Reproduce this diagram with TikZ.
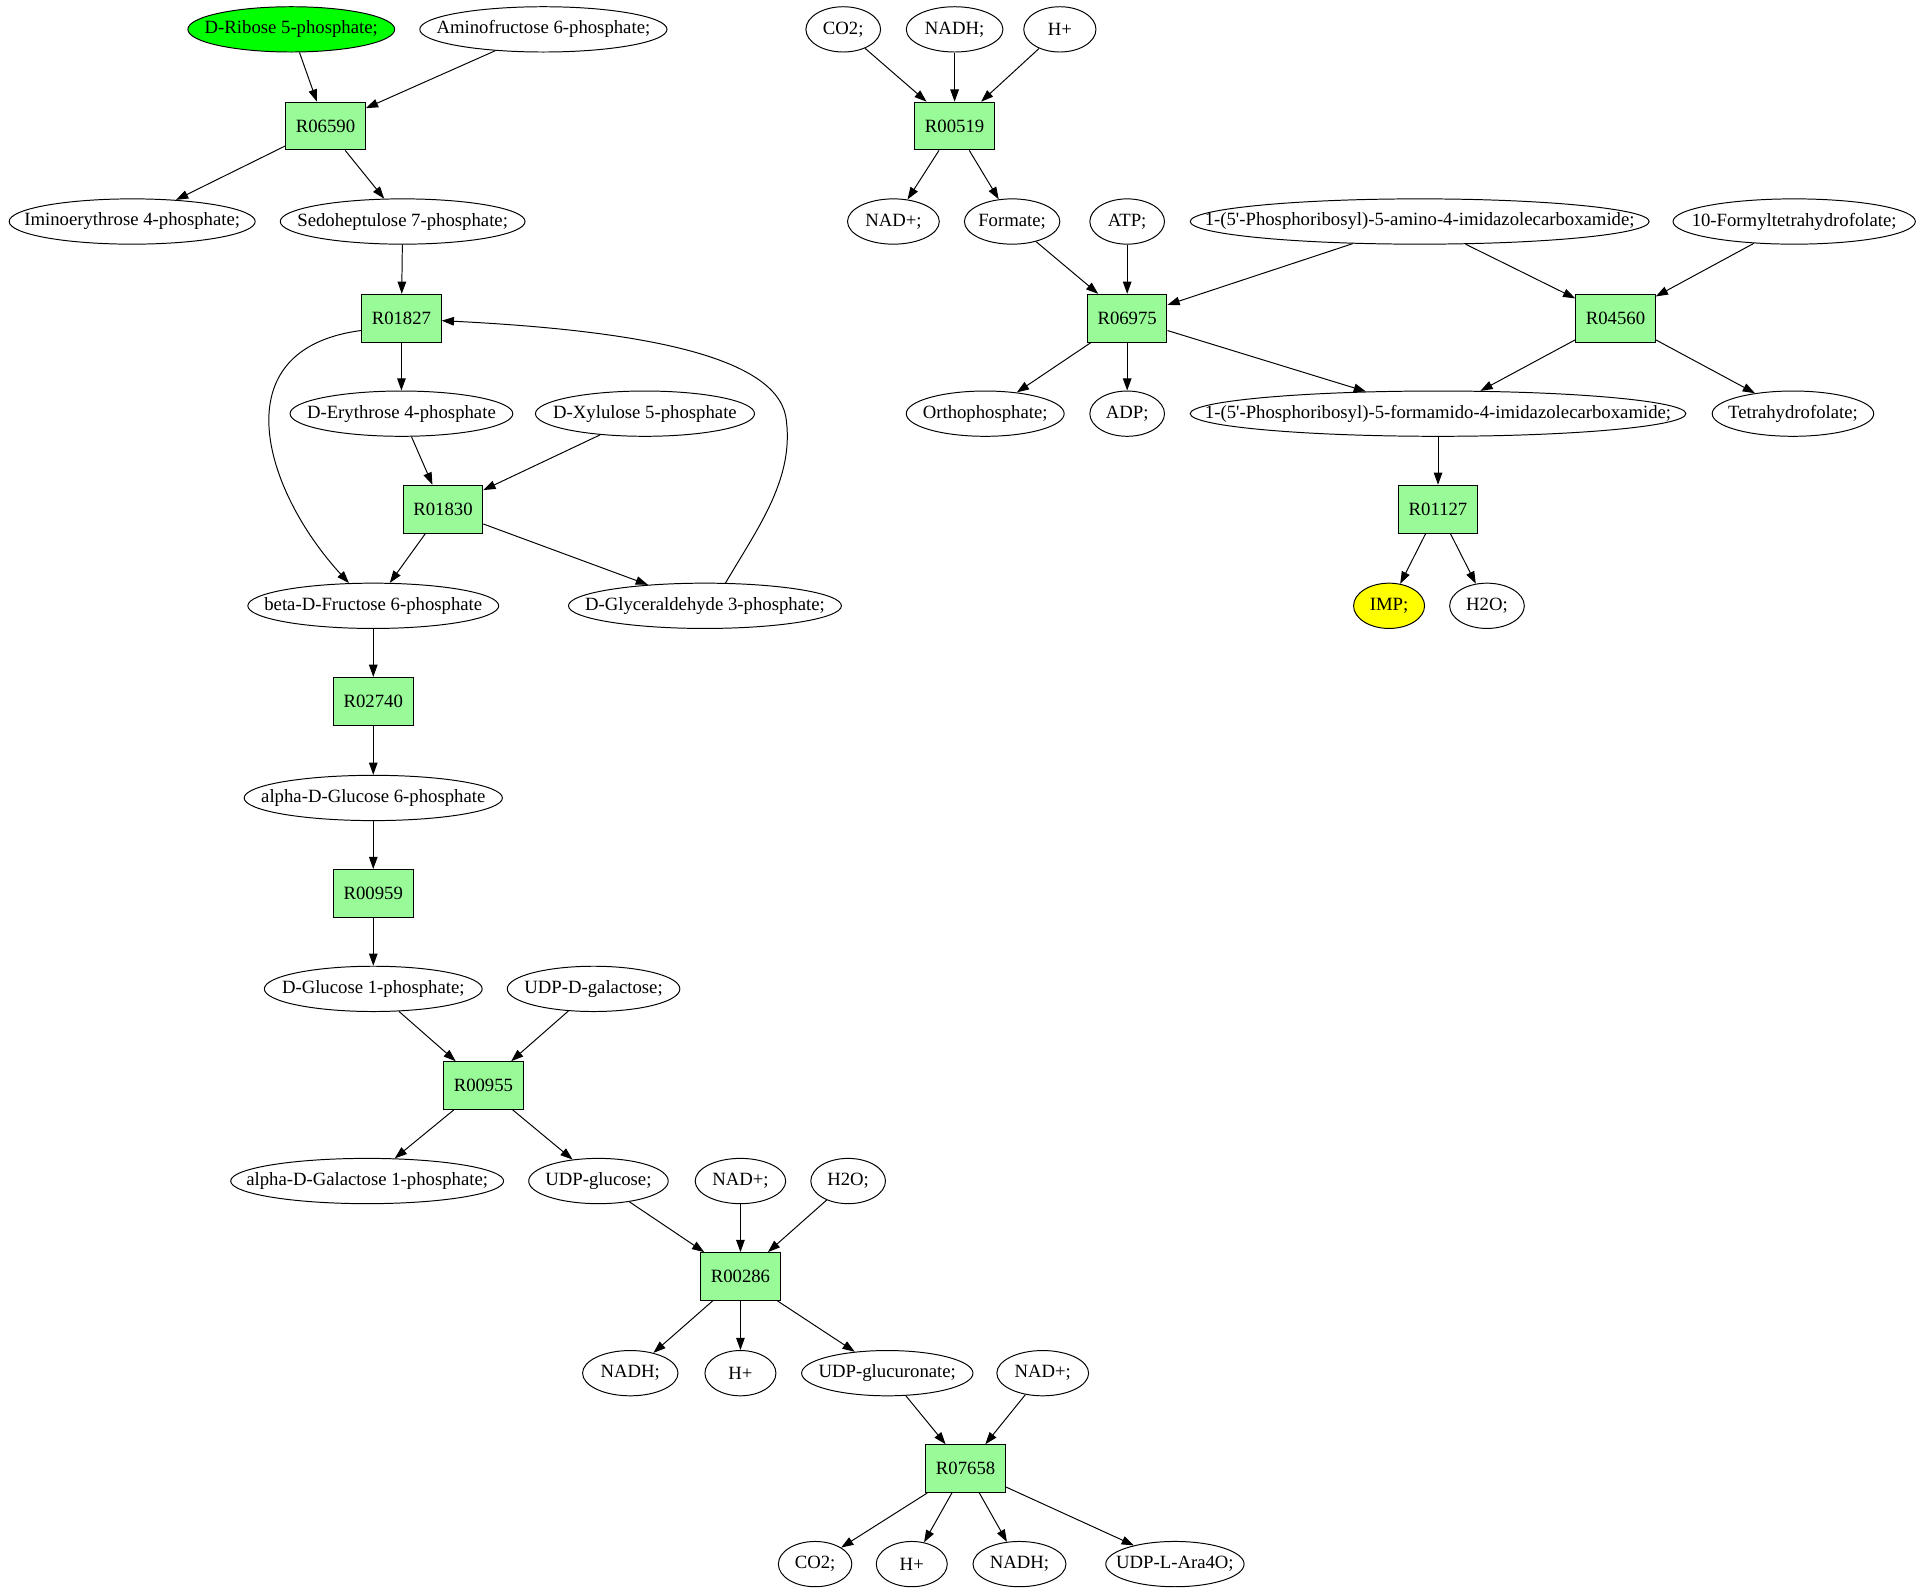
\documentclass[tikz,border=0pt]{standalone}
\usepackage{fontspec}
\setmainfont{Liberation Serif}
\usetikzlibrary{shapes.geometric,arrows.meta}
\definecolor{rxgreen}{HTML}{98FB98}
\definecolor{startgreen}{HTML}{00FF00}
\definecolor{endyellow}{HTML}{FFFF00}
\newcommand{\tm}{\fontsize{15.3}{18}\selectfont}
\tikzset{
  met/.style={ellipse, draw, line width=0.8pt, inner sep=0pt, minimum height=37pt},
  rxn/.style={rectangle, draw, line width=0.8pt, fill=rxgreen, minimum width=65pt, minimum height=39pt, inner sep=0pt, font=\tm},
  arr/.style={-{Triangle[length=10pt,width=7pt]}, line width=0.8pt},
  every label/.style={font=\tm, inner sep=0pt}
}
\newcommand{\met}[5][]{\node[met,#1,minimum width=#4pt,label={center:#5}] (#2) at (#3) {};}
\begin{document}
\begin{tikzpicture}[x=1pt,y=-1pt]
\useasboundingbox (0,0) rectangle (1568,1303);
% ---- left cluster ----
\met[fill=startgreen]{rib}{238,24}{169}{D-Ribose 5-phosphate;}
\met{amf}{444,24}{202}{Aminofructose 6-phosphate;}
\node[rxn] (r06590) at (266,103) {R06590};
\met{ime}{108,181}{201}{Iminoerythrose 4-phosphate;}
\met{sed}{329,181}{200}{Sedoheptulose 7-phosphate;}
\node[rxn] (r01827) at (328,260) {R01827};
\met{ery}{328,338}{182}{D-Erythrose 4-phosphate}
\met{xyl}{527,338}{179}{D-Xylulose 5-phosphate}
\node[rxn] (r01830) at (362,416) {R01830};
\met{fru}{305,495}{205}{beta-D-Fructose 6-phosphate}
\met{gly}{576,495}{223}{D-Glyceraldehyde 3-phosphate;}
\node[rxn] (r02740) at (305,573) {R02740};
\met{gsix}{305,652}{211}{alpha-D-Glucose 6-phosphate}
\node[rxn] (r00959) at (305,730) {R00959};
\met{gone}{305,808}{178}{D-Glucose 1-phosphate;}
\met{udpgal}{485,808}{141}{UDP-D-galactose;}
\node[rxn] (r00955) at (395,887) {R00955};
\met{gal}{300,965}{223}{alpha-D-Galactose 1-phosphate;}
\met{udpglc}{489,965}{114}{UDP-glucose;}
\met{nadA}{605,965}{74}{NAD+;}
\met{h2oA}{693,965}{61}{H2O;}
\node[rxn] (r00286) at (605,1043) {R00286};
\met{nadhA}{515,1122}{78}{NADH;}
\met{hA}{605,1122}{58}{H+}
\met{udpgla}{725,1122}{140}{UDP-glucuronate;}
\met{nadB}{852,1122}{75}{NAD+;}
\node[rxn] (r07658) at (789,1200) {R07658};
\met{coA}{666,1278}{60}{CO2;}
\met{hB}{745,1278}{58}{H+}
\met{nadhB}{833,1278}{76}{NADH;}
\met{ara}{960,1278}{113}{UDP-L-Ara4O;}
% ---- right cluster ----
\met{coB}{689,24}{61}{CO2;}
\met{nadhC}{780,24}{79}{NADH;}
\met{hC}{866,24}{59}{H+}
\node[rxn] (r00519) at (780,103) {R00519};
\met{nadC}{730,181}{75}{NAD+;}
\met{form}{827,181}{78}{Formate;}
\met{atp}{921,181}{61}{ATP;}
\met{aicar}{1160,181}{375}{1-(5\textquotesingle-Phosphoribosyl)-5-amino-4-imidazolecarboxamide;}
\met{fthf}{1466,181}{198}{10-Formyltetrahydrofolate;}
\node[rxn] (r06975) at (921,260) {R06975};
\node[rxn] (r04560) at (1320,260) {R04560};
\met{pi}{805,338}{129}{Orthophosphate;}
\met{adp}{921,338}{61}{ADP;}
\met{faicar}{1175,338}{405}{1-(5\textquotesingle-Phosphoribosyl)-5-formamido-4-imidazolecarboxamide;}
\met{thf}{1465,338}{132}{Tetrahydrofolate;}
\node[rxn] (r01127) at (1175,416) {R01127};
\met[fill=endyellow]{imp}{1135,495}{58}{IMP;}
\met{h2oB}{1215,495}{61}{H2O;}
% ---- edges ----
\draw[arr] (rib) -- (r06590);
\draw[arr] (amf) -- (r06590);
\draw[arr] (r06590) -- (ime);
\draw[arr] (r06590) -- (sed);
\draw[arr] (sed) -- (r01827);
\draw[arr] (r01827) -- (ery);
\draw[arr] (r01827.197) .. controls (180,285) and (215,400) .. (fru.137);
\draw[arr] (ery) -- (r01830);
\draw[arr] (xyl) -- (r01830);
\draw[arr] (r01830) -- (fru);
\draw[arr] (r01830) -- (gly);
\draw[arr] (gly.48) .. controls (620,430) and (650,390) .. (642,340) .. controls (632,290) and (520,270) .. (r01827.east |- 0,262);
\draw[arr] (fru) -- (r02740);
\draw[arr] (r02740) -- (gsix);
\draw[arr] (gsix) -- (r00959);
\draw[arr] (r00959) -- (gone);
\draw[arr] (gone) -- (r00955);
\draw[arr] (udpgal) -- (r00955);
\draw[arr] (r00955) -- (gal);
\draw[arr] (r00955) -- (udpglc);
\draw[arr] (udpglc) -- (r00286);
\draw[arr] (nadA) -- (r00286);
\draw[arr] (h2oA) -- (r00286);
\draw[arr] (r00286) -- (nadhA);
\draw[arr] (r00286) -- (hA);
\draw[arr] (r00286) -- (udpgla);
\draw[arr] (udpgla) -- (r07658);
\draw[arr] (nadB) -- (r07658);
\draw[arr] (r07658) -- (coA);
\draw[arr] (r07658) -- (hB);
\draw[arr] (r07658) -- (nadhB);
\draw[arr] (r07658) -- (ara);
\draw[arr] (coB) -- (r00519);
\draw[arr] (nadhC) -- (r00519);
\draw[arr] (hC) -- (r00519);
\draw[arr] (r00519) -- (nadC);
\draw[arr] (r00519) -- (form);
\draw[arr] (form) -- (r06975);
\draw[arr] (atp) -- (r06975);
\draw[arr] (aicar) -- (r06975);
\draw[arr] (aicar) -- (r04560);
\draw[arr] (fthf) -- (r04560);
\draw[arr] (r06975) -- (pi);
\draw[arr] (r06975) -- (adp);
\draw[arr] (r06975) -- (faicar);
\draw[arr] (r04560) -- (faicar);
\draw[arr] (r04560) -- (thf);
\draw[arr] (faicar) -- (r01127);
\draw[arr] (r01127) -- (imp);
\draw[arr] (r01127) -- (h2oB);
\end{tikzpicture}
\end{document}
